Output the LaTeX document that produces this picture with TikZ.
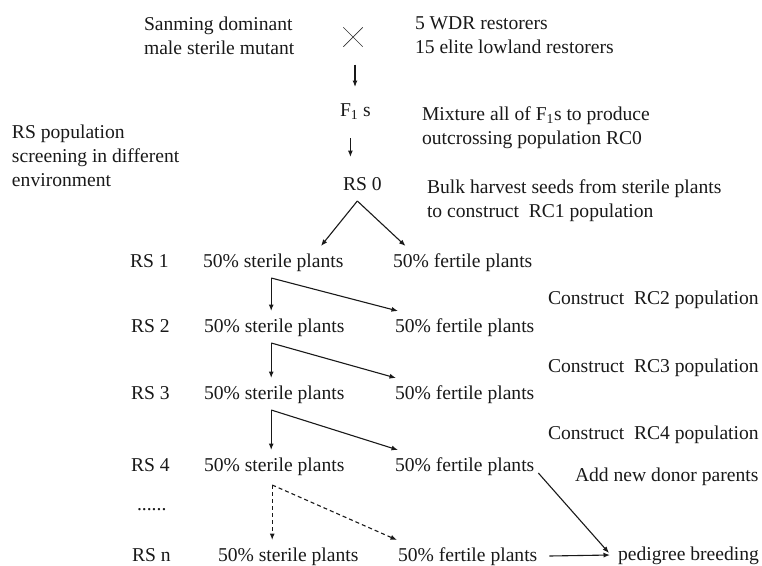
\documentclass[tikz,border=0pt]{standalone}
\usepackage{fontspec}
\setmainfont{Liberation Serif}
\usetikzlibrary{arrows.meta,calc}
\begin{document}
\begin{tikzpicture}[x=1pt,y=-1pt,
  txt/.style={anchor=base west, inner sep=0pt, outer sep=0pt, outer ysep=7pt,
    text height=14pt, text depth=4pt, font=\fontsize{19.6}{24}\selectfont, text=black!90},
  arr/.style={-{Latex[length=6.5pt,width=5pt]}, line width=1.1pt, draw=black!90},
  dsh/.style={arr, dash pattern=on 4pt off 3pt}]
\useasboundingbox (0,0) rectangle (762,565);

% top texts
\node[txt] (sanA) at (144,30) {Sanming dominant};
\node[txt] (sanB) at (144,54) {male sterile mutant};
\node[txt] (wdrA) at (415,29) {5 WDR restorers};
\node[txt] (wdrB) at (415,53) {15 elite lowland restorers};
\node[inner sep=0pt, minimum size=19pt] (cross) at (353,37) {};
\draw[line width=0.7pt, black!80] (cross.north west) -- (cross.south east)
  (cross.north east) -- (cross.south west);

\node[txt] (f1s) at (340,116) {F\textsubscript{1} s};
\node[txt] (mixA) at (422,120) {Mixture all of F\textsubscript{1}s to produce};
\node[txt] (mixB) at (422,144) {outcrossing population RC0};

\node[txt] (rspA) at (12,138) {RS population};
\node[txt] (rspB) at (12,162) {screening in different};
\node[txt] (rspC) at (12,186) {environment};

\node[txt] (rs0) at (343,190) {RS 0};
\node[txt] (bulkA) at (427,193) {Bulk harvest seeds from sterile plants};
\node[txt] (bulkB) at (427,217) {to construct\ \ RC1 population};

% rows
\node[txt] (rs1) at (130,267) {RS 1};
\node[txt] (s1) at (203,267) {50\% sterile plants};
\node[txt] (f1) at (393,267) {50\% fertile plants};

\node[txt] (rs2) at (131,332) {RS 2};
\node[txt] (s2) at (204,332) {50\% sterile plants};
\node[txt] (f2) at (395,332) {50\% fertile plants};

\node[txt] (rs3) at (131,399) {RS 3};
\node[txt] (s3) at (204,399) {50\% sterile plants};
\node[txt] (f3) at (395,399) {50\% fertile plants};

\node[txt] (rs4) at (131,471) {RS 4};
\node[txt] (s4) at (204,471) {50\% sterile plants};
\node[txt] (f4) at (395,471) {50\% fertile plants};

\node[txt] (dots) at (137,510) {......};

\node[txt] (rsn) at (132,561) {RS n};
\node[txt] (sn) at (218,561) {50\% sterile plants};
\node[txt] (fn) at (398,561) {50\% fertile plants};

\node[txt] (c2) at (548,304) {Construct\ \ RC2 population};
\node[txt] (c3) at (548,372) {Construct\ \ RC3 population};
\node[txt] (c4) at (548,439) {Construct\ \ RC4 population};
\node[txt] (add) at (575,481) {Add new donor parents};
\node[txt] (ped) at (618,560) {pedigree breeding};

% connectors
\draw[arr, shorten <=18pt, shorten >=8pt] ([xshift=2pt]cross.south) -- ([xshift=2pt]cross.south |- f1s.north);
\path ([xshift=-5pt]f1s.south) coordinate (f1a);
\draw[arr, shorten <=11pt, shorten >=12pt] (f1a) -- (f1a |- rs0.north);

\draw[arr] ([xshift=-5pt]rs0.south) -- ($(s1.north west)!0.84!(s1.north east)$);
\draw[arr] ([xshift=-5pt]rs0.south) -- ($(f1.north west)!0.09!(f1.north east)$);

\draw[arr] ([xshift=-2pt]s1.south) -- ([xshift=-2pt]s1.south |- s2.north);
\draw[arr] ([xshift=-2pt]s1.south) -- ([xshift=3pt]f2.north west);
\draw[arr] ([xshift=-3pt]s2.south) -- ([xshift=-3pt]s2.south |- s3.north);
\draw[arr] ([xshift=-3pt]s2.south) -- ([xshift=1pt]f3.north west);
\draw[arr] ([xshift=-3pt]s3.south) -- ([xshift=-3pt]s3.south |- s4.north);
\draw[arr] ([xshift=-3pt]s3.south) -- ([xshift=3pt]f4.north west);
\draw[dsh] ([xshift=-2pt,yshift=-3pt]s4.south) -- ([xshift=-2pt]s4.south |- sn.north);
\draw[dsh] ([xshift=-2pt,yshift=-3pt]s4.south) -- ([xshift=-1pt]fn.north west);

\draw[arr] ([xshift=4pt,yshift=-2pt]f4.base east) -- ([xshift=-9pt,yshift=2pt]ped.west);
\draw[arr] ([xshift=12pt]fn.east) -- ([xshift=-8pt]ped.west);
\end{tikzpicture}
\end{document}
